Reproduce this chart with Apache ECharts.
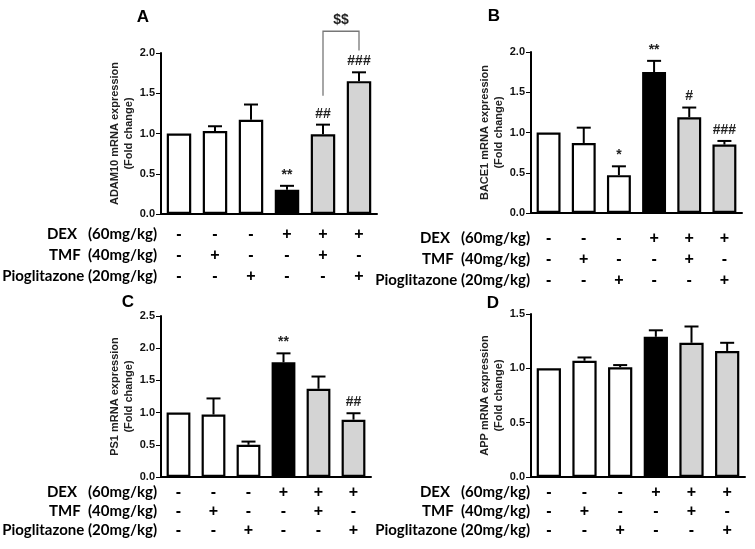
<!DOCTYPE html>
<html>
<head>
<meta charset="utf-8">
<script src="https://cdn.jsdelivr.net/npm/echarts@6/dist/echarts.min.js"></script>
<style>
  html, body { margin: 0; background: #fff; }
  #chart { width: 755px; height: 549px; }
</style>
</head>
<body>
<div id="chart"></div>
<script>
// treatment groups and the +/- table under each chart
const groups = ['Control', 'TMF', 'Pioglitazone', 'DEX', 'DEX+TMF', 'DEX+Pioglitazone']
const dexRow = ['-', '-', '-', '+', '+', '+']
const tmfRow = ['-', '+', '-', '-', '+', '-']
const pioRow = ['-', '-', '+', '-', '-', '+']
const rowNames = ['DEX   (60mg/kg)', 'TMF  (40mg/kg)', 'Pioglitazone (20mg/kg)']

// fold change (mean) and upper error (SEM) per group
const adam10Mean = [1.0, 1.03, 1.17, 0.30, 0.99, 1.65]
const adam10Sem = [0, 0.06, 0.19, 0.05, 0.12, 0.11]
const adam10Sig = ['', '', '', '**', '##', '###']

const bace1Mean = [1.0, 0.87, 0.47, 1.75, 1.19, 0.85]
const bace1Sem = [0, 0.19, 0.11, 0.14, 0.12, 0.045]
const bace1Sig = ['', '', '*', '**', '#', '###']

const ps1Mean = [1.0, 0.97, 0.50, 1.78, 1.37, 0.89]
const ps1Sem = [0, 0.25, 0.05, 0.14, 0.19, 0.10]
const ps1Sig = ['', '', '', '**', '', '##']

const appMean = [1.0, 1.07, 1.01, 1.29, 1.235, 1.16]
const appSem = [0, 0.03, 0.02, 0.06, 0.15, 0.075]
const appSig = ['', '', '', '', '', '']

// $$ bracket in panel A (group indexes, line ends and top level)
const bracketGroups = [4, 5]
const bracketEnds = [1.47, 2.03]
const bracketTop = 2.27
const bracketText = '$$'

const yMaxA = 2.0, yMaxB = 2.0, yMaxC = 2.5, yMaxD = 1.5

const barColors = ['#ffffff', '#ffffff', '#ffffff', '#000000', '#d4d4d4', '#d4d4d4']
const rowFont = 'bold 15px Lato'
const sigFont = 'bold 14px "Liberation Sans"'

const panels = [
  { letter: 'A', letterPos: [143, 17], name: 'ADAM10 mRNA expression', mean: adam10Mean, sem: adam10Sem, sig: adam10Sig, max: yMaxA,
    grid: { left: 161, top: 53, width: 216, height: 161 }, nameGap: 22, margin: 10, lineH: 21, rowRight: 157 },
  { letter: 'B', letterPos: [494, 16], name: 'BACE1 mRNA expression', mean: bace1Mean, sem: bace1Sem, sig: bace1Sig, max: yMaxB,
    grid: { left: 531, top: 52, width: 211, height: 161 }, nameGap: 18, margin: 15, lineH: 21, rowRight: 530 },
  { letter: 'C', letterPos: [128, 302], name: 'PS1 mRNA expression', mean: ps1Mean, sem: ps1Sem, sig: ps1Sig, max: yMaxC,
    grid: { left: 161, top: 316, width: 210, height: 161 }, nameGap: 16, margin: 6, lineH: 19, rowRight: 157 },
  { letter: 'D', letterPos: [493, 303], name: 'APP mRNA expression', mean: appMean, sem: appSem, sig: appSig, max: yMaxD,
    grid: { left: 531, top: 314, width: 214, height: 163 }, nameGap: 17, margin: 6, lineH: 19, rowRight: 530 }
]

function errorBars(sig) {
  return function (params, api) {
    const i = api.value(0)
    const base = api.coord([i, api.value(1)])
    const top = api.coord([i, api.value(1) + api.value(2)])
    const children = []
    if (api.value(2) > 0) {
      children.push(
        { type: 'line', shape: { x1: base[0], y1: base[1], x2: top[0], y2: top[1] }, style: { stroke: '#000', lineWidth: 2 } },
        { type: 'line', shape: { x1: top[0] - 7, y1: top[1], x2: top[0] + 7, y2: top[1] }, style: { stroke: '#000', lineWidth: 2 } }
      )
    }
    if (sig[i]) {
      children.push({
        type: 'text',
        style: { text: sig[i], x: top[0], y: top[1] - 4, align: 'center', verticalAlign: 'bottom', font: sigFont, fill: '#222' }
      })
    }
    return { type: 'group', children }
  }
}

function bracketItem(params, api) {
  const a = api.coord([api.value(0), api.value(2)])
  const b = api.coord([api.value(1), api.value(3)])
  const ta = api.coord([api.value(0), api.value(4)])
  const tb = api.coord([api.value(1), api.value(4)])
  return {
    type: 'group',
    children: [
      { type: 'polyline', shape: { points: [a, ta, tb, b] }, style: { stroke: '#777', lineWidth: 1.3, fill: null } },
      { type: 'text', style: { text: bracketText, x: (ta[0] + tb[0]) / 2, y: ta[1] - 4, align: 'center', verticalAlign: 'bottom', font: sigFont, fill: '#222' } }
    ]
  }
}

const grids = [], xAxes = [], yAxes = [], series = [], graphics = []

panels.forEach((p, k) => {
  grids.push(p.grid)
  xAxes.push({
    type: 'category', gridIndex: k, data: groups,
    axisLine: { lineStyle: { color: '#000', width: 2 } },
    axisTick: { alignWithLabel: true, length: 5, lineStyle: { color: '#000', width: 1 } },
    axisLabel: {
      interval: 0, margin: p.margin, lineHeight: p.lineH,
      fontFamily: 'Liberation Sans', fontWeight: 'bold', fontSize: 16, color: '#000',
      formatter: (v, i) => [dexRow[i], tmfRow[i], pioRow[i]].join('\n')
    }
  })
  yAxes.push({
    type: 'value', gridIndex: k, min: 0, max: p.max, interval: 0.5,
    name: p.name + '\n(Fold change)', nameLocation: 'middle', nameRotate: 90, nameGap: p.nameGap,
    nameTextStyle: { fontFamily: 'Liberation Sans', fontWeight: 'bold', fontSize: 11, color: '#222', lineHeight: 14 },
    splitLine: { show: false },
    axisLine: { show: true, lineStyle: { color: '#000', width: 2 } },
    axisTick: { show: true, length: 5, lineStyle: { color: '#000', width: 1 } },
    axisLabel: { margin: 6, fontFamily: 'Liberation Sans', fontWeight: 'bold', fontSize: 11, color: '#111', formatter: v => v.toFixed(1) }
  })
  series.push({
    type: 'bar', xAxisIndex: k, yAxisIndex: k, barWidth: '68%',
    itemStyle: { borderColor: '#000', borderWidth: 2.2 },
    data: p.mean.map((v, i) => ({ value: v, itemStyle: { color: barColors[i] } }))
  })
  series.push({
    type: 'custom', xAxisIndex: k, yAxisIndex: k, clip: false, z: 5,
    renderItem: errorBars(p.sig),
    data: p.mean.map((v, i) => [i, v, p.sem[i]])
  })

  // panel letter and the row headers of the +/- table
  graphics.push({ type: 'text', x: p.letterPos[0], y: p.letterPos[1],
    style: { text: p.letter, font: 'bold 17px "Liberation Sans"', fill: '#000', align: 'center', verticalAlign: 'middle' } })
  const rowTop = p.grid.top + p.grid.height + p.margin
  rowNames.forEach((t, r) => {
    graphics.push({ type: 'text', x: p.rowRight, y: rowTop + p.lineH * (r + 0.5),
      style: { text: t, font: rowFont, fill: '#000', align: 'right', verticalAlign: 'middle' } })
  })
})

series.push({
  type: 'custom', xAxisIndex: 0, yAxisIndex: 0, clip: false, z: 6,
  renderItem: bracketItem,
  data: [[bracketGroups[0], bracketGroups[1], bracketEnds[0], bracketEnds[1], bracketTop]]
})

const chart = echarts.init(document.getElementById('chart'))
chart.setOption({
  animation: false,
  backgroundColor: '#fff',
  grid: grids,
  xAxis: xAxes,
  yAxis: yAxes,
  series: series,
  graphic: graphics
})
</script>
</body>
</html>
